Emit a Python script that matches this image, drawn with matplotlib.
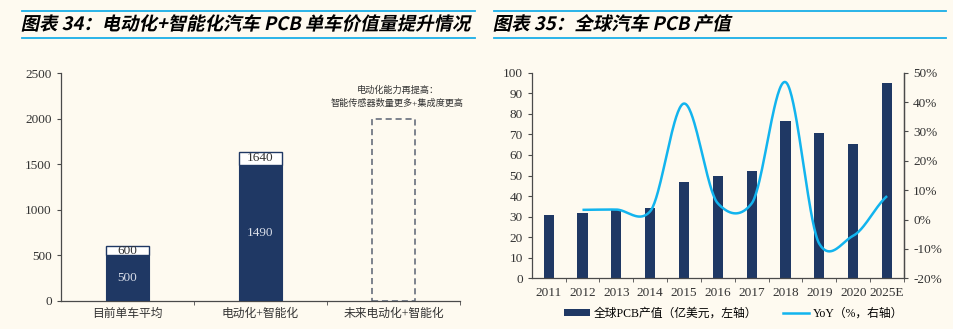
import numpy as np
import matplotlib
matplotlib.use('Agg')
import matplotlib.pyplot as plt
from matplotlib.textpath import TextPath
from matplotlib.patches import PathPatch, Patch
from matplotlib.font_manager import FontProperties
from matplotlib.transforms import Affine2D, IdentityTransform
from matplotlib.lines import Line2D
from matplotlib.ticker import FixedLocator, FuncFormatter

plt.rcParams['font.family'] = ['Liberation Serif', 'Noto Sans CJK SC']
plt.rcParams['axes.unicode_minus'] = False

BG = '#fefaf0'
NAVY = '#1f3864'
CYAN = '#12b4ee'
AXIS = '#4a4a4a'
TXT = '#333333'

# left chart: PCB value per vehicle
stages = ['目前单车平均', '电动化+智能化', '未来电动化+智能化']
base_value = [500, 1490]
top_value = [600, 1640]
future_value = 2000
future_note = '电动化能力再提高：\n智能传感器数量更多+集成度更高'

# right chart: global auto PCB output
years = ['2011', '2012', '2013', '2014', '2015', '2016', '2017', '2018', '2019', '2020', '2025E']
output = [31.0, 31.9, 33.4, 34.0, 47.0, 49.6, 52.2, 76.7, 70.6, 65.5, 94.8]
yoy = [3.3, 3.4, 2.8, 39.5, 5.5, 5.5, 46.8, -8.3, -5.5, 8.0]  # 2012 onwards

title_left = '图表 34：电动化+智能化汽车 PCB 单车价值量提升情况'
title_right = '图表 35：全球汽车 PCB 产值'

W, H = 954, 329
fig = plt.figure(figsize=(W / 100, H / 100), dpi=100, facecolor=BG)


def px_axes(x0, y0, x1, y1):
    # image pixel box (top-left origin) -> figure fraction
    return fig.add_axes([x0 / W, 1 - y1 / H, (x1 - x0) / W, (y1 - y0) / H])


def slanted_title(text, x0, x1, baseline):
    fp = FontProperties(family='Noto Sans CJK SC', weight='bold')
    tp = TextPath((0, 0), text, size=18, prop=fp)
    ext = tp.get_extents()
    s = (x1 - x0) / ext.width
    tr = Affine2D().translate(-ext.x0, 0).scale(s).skew_deg(12, 0).translate(x0, H - baseline)
    fig.patches.append(PathPatch(tr.transform_path(tp), transform=IdentityTransform(),
                                 facecolor='black', edgecolor='none', figure=fig))


def rule(x0, x1, y):
    fig.lines.append(Line2D([x0 / W, x1 / W], [1 - y / H, 1 - y / H],
                            transform=fig.transFigure, color='#19aee8', lw=1.3))


def smooth(xs, ys, k=0.72, n=40):
    xs = np.asarray(xs, float)
    ys = np.asarray(ys, float)
    m = np.zeros_like(ys)
    m[1:-1] = k * (ys[2:] - ys[:-2]) / 2
    m[0] = k * (ys[1] - ys[0])
    m[-1] = k * (ys[-1] - ys[-2])
    ox, oy = [], []
    for i in range(len(xs) - 1):
        t = np.linspace(0, 1, n)
        h00 = 2 * t**3 - 3 * t**2 + 1
        h10 = t**3 - 2 * t**2 + t
        h01 = -2 * t**3 + 3 * t**2
        h11 = t**3 - t**2
        ox.extend(xs[i] + t * (xs[i + 1] - xs[i]))
        oy.extend(h00 * ys[i] + h10 * m[i] + h01 * ys[i + 1] + h11 * m[i + 1])
    return np.array(ox), np.array(oy)


def style_axes(ax, n):
    ax.set_facecolor(BG)
    for side in ['top', 'right']:
        ax.spines[side].set_visible(False)
    for side in ['left', 'bottom', 'right']:
        ax.spines[side].set_color(AXIS)
        ax.spines[side].set_linewidth(0.9)
    ax.set_xlim(-0.5, n - 0.5)
    ax.set_xticks(range(n))
    ax.xaxis.set_minor_locator(FixedLocator(np.arange(0.5, n, 1.0)))
    ax.tick_params(axis='x', which='major', length=0, pad=6, colors=TXT)
    ax.tick_params(axis='x', which='minor', length=3, direction='out', color=AXIS)
    ax.tick_params(axis='y', length=3, direction='out', color=AXIS, colors=TXT, labelsize=9.5)


slanted_title(title_left, 22, 470, 30)
slanted_title(title_right, 494, 730, 30)
rule(22, 475, 11)
rule(22, 475, 38)
rule(494, 946, 11)
rule(494, 946, 38)

# ---- left chart
ax1 = px_axes(60.7, 73.3, 460, 300.7)
style_axes(ax1, 3)
ax1.set_ylim(0, 2500)
ax1.set_yticks(range(0, 2501, 500))
ax1.set_xticklabels(stages, fontsize=8.5, color=TXT)
ax1.tick_params(axis='x', which='major', pad=5)

bw = 0.32
xb = np.arange(len(base_value))
ax1.bar(xb, base_value, width=bw, color=NAVY, edgecolor=NAVY, lw=0.8, zorder=3)
ax1.bar(xb, np.array(top_value) - np.array(base_value), bottom=base_value, width=bw,
        color='white', edgecolor=NAVY, lw=1.0, zorder=3)
ax1.bar(2, future_value, width=bw, fill=False, edgecolor='#5a6272', lw=1.1,
        linestyle=(0, (4, 2.5)), zorder=3)
for x, b, t in zip(xb, base_value, top_value):
    ax1.text(x, b / 2, str(b), ha='center', va='center', fontsize=9.5, color='#d8dde8', zorder=4)
    ax1.text(x, (b + t) / 2, str(t), ha='center', va='center', fontsize=9.5, color=TXT, zorder=4)
ax1.text(2.03, 2245, future_note, ha='center', va='center', fontsize=6.6,
         color=TXT, linespacing=1.55)

# ---- right chart
ax2 = px_axes(531.7, 72.7, 904, 278.3)
style_axes(ax2, len(years))
ax2.spines['right'].set_visible(True)
ax2.set_ylim(0, 100)
ax2.set_yticks(range(0, 101, 10))
ax2.set_xticklabels(years, fontsize=9.5, color=TXT)
xr = np.arange(len(years))
bars = ax2.bar(xr, output, width=0.3, color=NAVY, zorder=2, label='全球PCB产值（亿美元，左轴）')

ax3 = ax2.twinx()
ax3.set_ylim(-20, 50)
ax3.set_yticks(range(-20, 51, 10))
ax3.yaxis.set_major_formatter(FuncFormatter(lambda v, p: f'{v:.0f}%'))
ax3.tick_params(axis='y', length=3, direction='out', color=AXIS, colors=TXT, labelsize=9.5)
for side in ['top', 'left', 'bottom']:
    ax3.spines[side].set_visible(False)
ax3.spines['right'].set_color(AXIS)
ax3.spines['right'].set_linewidth(0.9)
sx, sy = smooth(xr[1:], yoy)
ax3.plot(sx, sy, color=CYAN, lw=1.8, solid_capstyle='butt', zorder=3)

handles = [Patch(facecolor=NAVY, edgecolor='none'),
           Line2D([], [], color=CYAN, lw=1.8)]
fig.legend(handles, ['全球PCB产值（亿美元，左轴）', 'YoY（%，右轴）'],
           loc='center left', bbox_to_anchor=(564 / W, 1 - 314 / H), ncol=2,
           frameon=False, fontsize=8.5, handlelength=2.2, handleheight=0.5,
           handletextpad=0.3, columnspacing=2.2, borderaxespad=0, borderpad=0)

fig.savefig('out.png', dpi=100, facecolor=BG)
